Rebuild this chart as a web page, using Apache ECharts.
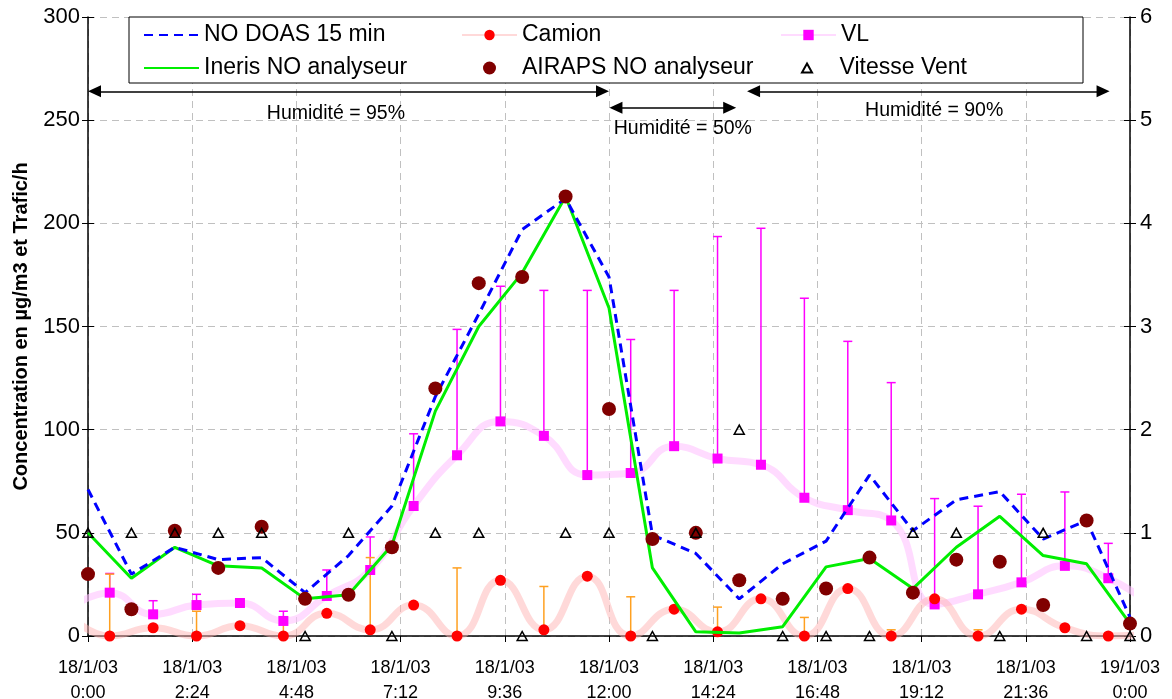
<!DOCTYPE html>
<html>
<head>
<meta charset="utf-8">
<script src="https://cdn.jsdelivr.net/npm/echarts@6/dist/echarts.min.js"></script>
<style>
html,body{margin:0;padding:0;background:#fff;}
#c{width:1172px;height:699px;}
</style>
</head>
<body>
<div id="c"></div>
<script>
// ---- data (hours of 18/1/03) ----
const hourTimes = [0,1,2,3,4,5,6,7,8,9,10,11,12,13,14,15,16,17,18,19,20,21,22,23,24];
const halfHourTimes = [0.5,1.5,2.5,3.5,4.5,5.5,6.5,7.5,8.5,9.5,10.5,11.5,12.5,13.5,14.5,15.5,16.5,17.5,18.5,19.5,20.5,21.5,22.5,23.5];

const noDoas = [71,30,43,37,38,21,39,63,116,156,197,212,174,49,40,18,35,46,78,51,66,70,47,56,9];
const ineris = [50,28,43,34,33,18,20,44,109,150,176,213,159,33,2,1.5,4.5,33.5,37.6,23,43,58,39,35,6];
const airaps = [30,13,51,33,53,18,20,43,120,171,174,213,110,47,50,27,18,23,38,21,37,36,15,56,6];
const ventSpeed = [1,1,1,1,1,0,1,0,1,1,0,1,1,0,1,2,0,0,0,1,1,0,1,0,0];

const camion = [0,4,0,5,0,11,3,15,0,27,3,29,0,13,2,18,0,23,0,18,0,13,4,0];
const camionErrPlus = [30,0,12,0,6,0,35,0,33,0,21,0,19,0,12,0,9,0,3,0,3,0,0,0];
const vl = [21,10.5,15,16,7.3,19.4,32,63,87.6,104,97,78,79,92,86,83,67,61,56,15.3,20.2,26,34,28];
const vlErrPlus = [9.3,6.6,5.2,0,4.7,12.6,16,35,61,65.5,70.5,89.5,64.7,75.5,107.6,114.6,96.7,81.8,66.8,51.3,42.7,42.7,35.8,16.9];

// band continuation beyond the plot edges (hours -0.5 and 24.5)
const edgeTimes = [-0.5, 24.5];
const camionEdge = [12, 1];
const vlEdge = [12, 15];

// humidity annotations (hours / left-axis values)
const humStart = [0.15, 12.16, 15.33];
const humEnd = [11.85, 14.78, 23.38];
const humLevel = [264, 256, 264];
const humLabels = ['Humidité = 95%', 'Humidité = 50%', 'Humidité = 90%'];
const humLabelX = [5.71, 13.7, 19.49];
const humLabelY = [253, 246, 254.5];

const yTicksLeft = [0, 300, 50];
const yTicksRight = [0, 6, 1];

// ---- helpers ----
const toMin = h => h * 60;
const pairs = (ts, vs) => ts.map((t, i) => [toMin(t), vs[i]]);
const withEdges = (ts, vs, ev) => [{value: [toMin(edgeTimes[0]), ev[0]], symbol: 'none'}]
  .concat(pairs(ts, vs))
  .concat([{value: [toMin(edgeTimes[1]), ev[1]], symbol: 'none'}]);

function errRender(color) {
  return function (params, api) {
    const x = api.value(0), y = api.value(1), e = api.value(2);
    if (!e) return;
    const p0 = api.coord([x, y]);
    const p1 = api.coord([x, y + e]);
    return {
      type: 'group',
      children: [
        {type: 'line', shape: {x1: p0[0], y1: p0[1], x2: p1[0], y2: p1[1]}, style: {stroke: color, lineWidth: 1.5}},
        {type: 'line', shape: {x1: p1[0] - 4.5, y1: p1[1], x2: p1[0] + 4.5, y2: p1[1]}, style: {stroke: color, lineWidth: 1.5}}
      ]
    };
  };
}

const FONT = "'Liberation Sans', Arial, sans-serif";
const chart = echarts.init(document.getElementById('c'));

const humMarkData = humStart.map((s, i) => [
  {coord: [toMin(s), humLevel[i]]},
  {coord: [toMin(humEnd[i]), humLevel[i]]}
]);
const humPointData = humLabels.map((t, i) => ({
  coord: [toMin(humLabelX[i]), humLabelY[i]],
  label: {formatter: t}
}));

const legendCommon = {
  orient: 'vertical', itemGap: 10, itemWidth: 55, itemHeight: 13,
  textStyle: {fontSize: 23, color: '#000', fontFamily: FONT},
  selectedMode: false, symbolKeepAspect: true
};

chart.setOption({
  animation: false,
  textStyle: {fontFamily: FONT},
  grid: {left: 88, right: 42, top: 17, bottom: 63, containLabel: false, outerBoundsMode: 'none'},
  legend: [
    Object.assign({}, legendCommon, {left: 138, top: 18.5, data: [
      {name: 'NO DOAS 15 min', itemStyle: {opacity: 0}},
      {name: 'Ineris NO analyseur', itemStyle: {opacity: 0}}
    ]}),
    Object.assign({}, legendCommon, {left: 456, top: 18.5, data: ['Camion', 'AIRAPS NO analyseur']}),
    Object.assign({}, legendCommon, {left: 775, top: 18.5, data: ['VL']}),
    Object.assign({}, legendCommon, {left: 796, top: 51.5, itemHeight: 9, data: [
      {name: 'Vitesse Vent', icon: 'path://M5,0L10,9L0,9Z'}
    ]})
  ],
  graphic: [{
    type: 'rect', z: 3,
    shape: {x: 129, y: 17, width: 954, height: 66},
    style: {fill: '#fff', stroke: '#000', lineWidth: 1}
  }],
  xAxis: {
    type: 'value', min: 0, max: 1440, interval: 144,
    axisLine: {show: true, lineStyle: {color: '#000', width: 1.5}},
    axisTick: {show: true, length: 6, lineStyle: {color: '#000'}},
    axisLabel: {
      fontSize: 18, color: '#000', lineHeight: 25, margin: 20,
      formatter: v => {
        const day = v >= 1440 ? '19/1/03' : '18/1/03';
        const mm = v % 1440;
        const h = Math.floor(mm / 60), m = Math.round(mm % 60);
        return day + '\n' + h + ':' + (m < 10 ? '0' + m : m);
      }
    },
    splitLine: {show: true, lineStyle: {color: '#c0c0c0', type: [7, 5], width: 1}}
  },
  yAxis: [
    {
      type: 'value', min: yTicksLeft[0], max: yTicksLeft[1], interval: yTicksLeft[2], position: 'left',
      name: 'Concentration en µg/m3 et Trafic/h', nameLocation: 'middle', nameGap: 57,
      nameTextStyle: {fontSize: 20, fontWeight: 'bold', color: '#000'},
      axisLine: {show: true, lineStyle: {color: '#000', width: 1.5}},
      axisTick: {show: true, length: 6, lineStyle: {color: '#000'}},
      axisLabel: {fontSize: 22, color: '#000', margin: 8},
      splitLine: {show: true, lineStyle: {color: '#c0c0c0', type: [7, 5], width: 1}}
    },
    {
      type: 'value', min: yTicksRight[0], max: yTicksRight[1], interval: yTicksRight[2], position: 'right',
      axisLine: {show: true, lineStyle: {color: '#000', width: 1.5}},
      axisTick: {show: true, length: 6, lineStyle: {color: '#000'}},
      axisLabel: {fontSize: 22, color: '#000', margin: 10},
      splitLine: {show: false}
    },
    {
      type: 'value', min: yTicksLeft[0], max: yTicksLeft[1], interval: yTicksLeft[2], position: 'left',
      axisLine: {show: false}, axisLabel: {show: false}, splitLine: {show: false},
      axisTick: {show: true, inside: true, length: 6, lineStyle: {color: '#000'}}
    },
    {
      type: 'value', min: yTicksRight[0], max: yTicksRight[1], interval: yTicksRight[2], position: 'right',
      axisLine: {show: false}, axisLabel: {show: false}, splitLine: {show: false},
      axisTick: {show: true, inside: true, length: 6, lineStyle: {color: '#000'}}
    }
  ],
  series: [
    {
      name: 'VL err', type: 'custom', renderItem: errRender('#ff00ff'), silent: true, z: 2,
      encode: {x: 0, y: 1},
      data: halfHourTimes.map((t, i) => [toMin(t), vl[i], vlErrPlus[i]])
    },
    {
      name: 'Camion err', type: 'custom', renderItem: errRender('#ffa020'), silent: true, z: 2,
      encode: {x: 0, y: 1},
      data: halfHourTimes.map((t, i) => [toMin(t), camion[i], camionErrPlus[i]])
    },
    {
      name: 'VL', type: 'line', smooth: 0.5, z: 2,
      symbol: 'rect', symbolSize: 10, showAllSymbol: true,
      itemStyle: {color: '#ff00ff'},
      lineStyle: {color: 'rgba(255,195,255,0.6)', width: 7},
      data: withEdges(halfHourTimes, vl, vlEdge)
    },
    {
      name: 'Camion', type: 'line', smooth: 0.5, z: 2,
      symbol: 'circle', symbolSize: 11, showAllSymbol: true,
      itemStyle: {color: '#ff0000'},
      lineStyle: {color: 'rgba(255,180,180,0.5)', width: 7},
      data: withEdges(halfHourTimes, camion, camionEdge)
    },
    {
      name: 'Ineris NO analyseur', type: 'line', symbol: 'none', z: 3,
      itemStyle: {color: '#00ee00'},
      lineStyle: {color: '#00ee00', width: 3},
      data: pairs(hourTimes, ineris)
    },
    {
      name: 'NO DOAS 15 min', type: 'line', symbol: 'none', z: 3,
      itemStyle: {color: '#0000ff'},
      lineStyle: {color: '#0000ff', width: 3, type: [9, 6]},
      data: pairs(hourTimes, noDoas),
      markLine: {
        silent: true, symbol: ['triangle', 'triangle'], symbolSize: [12, 13],
        lineStyle: {color: '#000', width: 1.5, type: 'solid'},
        itemStyle: {color: '#000'},
        label: {show: false},
        emphasis: {disabled: true},
        data: humMarkData
      },
      markPoint: {
        silent: true, symbol: 'circle', symbolSize: 0,
        label: {show: true, position: 'inside', color: '#000', fontSize: 19.5, fontFamily: FONT},
        data: humPointData
      }
    },
    {
      name: 'AIRAPS NO analyseur', type: 'scatter', z: 4,
      symbol: 'circle', symbolSize: 14,
      itemStyle: {color: '#800000', opacity: 1},
      data: pairs(hourTimes, airaps)
    },
    {
      name: 'Vitesse Vent', type: 'scatter', yAxisIndex: 1, z: 5,
      symbol: 'triangle', symbolSize: [10, 9],
      itemStyle: {color: 'rgba(255,255,255,0)', borderColor: '#000', borderWidth: 1.5, opacity: 1},
      data: pairs(hourTimes, ventSpeed)
    }
  ]
});
</script>
</body>
</html>
